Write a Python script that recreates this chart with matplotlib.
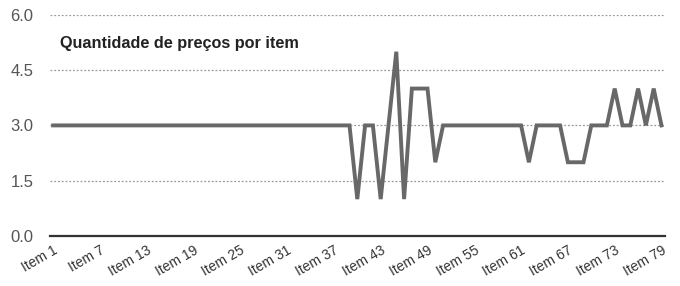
import matplotlib
matplotlib.use("Agg")
import matplotlib.pyplot as plt
import numpy as np

# quantidade de precos por item (Item 1 .. Item 79)
items = ["Item %d" % i for i in range(1, 80)]
counts = [3] * 38 + [
    3, 1, 3, 3, 1, 3, 5, 1, 4, 4,   # 39-48
    4, 2, 3, 3, 3, 3, 3, 3, 3, 3,   # 49-58
    3, 3, 3, 2, 3, 3, 3, 3, 2, 2,   # 59-68
    2, 3, 3, 3, 4, 3, 3, 4, 3, 4,   # 69-78
    3,                              # 79
]
yticks = [0.0, 1.5, 3.0, 4.5, 6.0]
title = "Quantidade de preços por item"

plt.rcParams["font.family"] = ["Liberation Sans", "DejaVu Sans"]

fig = plt.figure(figsize=(6.8, 2.86), dpi=100)
ax = fig.add_axes([0.0735, 0.175, 0.905, 0.773])

x = np.arange(1, len(counts) + 1)
ax.plot(x, counts, color="#686868", lw=2.8, solid_joinstyle="miter", zorder=3)

ax.set_xlim(0.6, 79.5)
ax.set_ylim(0, 6)
ax.set_yticks(yticks)
ax.set_yticklabels(["%.1f" % v for v in yticks], fontsize=12, color="#555555")
ax.set_xticks(x[::6])
ax.set_xticklabels(items[::6], rotation=30, ha="right", rotation_mode="anchor",
                   fontsize=10, color="#333333")
ax.tick_params(axis="both", length=0)
ax.tick_params(axis="y", pad=12)
ax.tick_params(axis="x", pad=5)

ax.grid(axis="y", color="#9a9a9a", linestyle=(0, (1.5, 1.5)), lw=0.9)
for s in ["top", "right", "left"]:
    ax.spines[s].set_visible(False)
ax.spines["bottom"].set_color("#333333")
ax.spines["bottom"].set_linewidth(1.6)

ax.text(0.016, 0.87, title, transform=ax.transAxes, fontsize=11.7,
        fontweight="bold", color="#222222", va="center", ha="left")

fig.savefig("out.png", dpi=100)
